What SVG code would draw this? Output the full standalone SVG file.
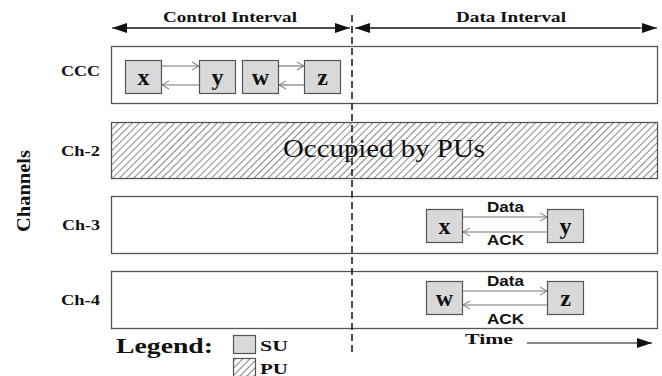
<svg xmlns="http://www.w3.org/2000/svg" width="662" height="376" viewBox="0 0 662 376">
<style>
.ser{font-family:"Liberation Serif","DejaVu Serif",serif;font-weight:bold;fill:#111}
.san{font-family:"Liberation Sans",Arial,sans-serif;font-weight:bold;fill:#111;font-size:14px}
.row{fill:#fff;stroke:#555;stroke-width:1.3}
.node rect{fill:#d9d9d9;stroke:#555;stroke-width:1.2}
.node text{font-family:"Liberation Serif","DejaVu Serif",serif;font-weight:bold;font-size:24px;fill:#111;text-anchor:middle}
.lk{stroke:#777;stroke-width:1.2;fill:none;marker-end:url(#open)}
.big{stroke:#111;stroke-width:1.2;fill:none}
</style>
<defs>
<marker id="open" markerWidth="10" markerHeight="10" refX="8" refY="5" orient="auto" markerUnits="userSpaceOnUse">
<path d="M1,1 L8,5 L1,9" fill="none" stroke="#777" stroke-width="1"/>
</marker>
<marker id="fill" markerWidth="16" markerHeight="12" refX="15" refY="6" orient="auto" markerUnits="userSpaceOnUse">
<path d="M0,1 L15,6 L0,11 Z" fill="#111"/>
</marker>
<pattern id="hatch" width="5" height="5" patternUnits="userSpaceOnUse" patternTransform="rotate(45)">
<rect width="5" height="5" fill="#fff"/>
<line x1="0" y1="0" x2="0" y2="5" stroke="#222" stroke-width="1.1"/>
</pattern>
</defs>

<!-- interval headers -->
<text class="ser" x="163" y="22" font-size="15" textLength="134" lengthAdjust="spacingAndGlyphs">Control Interval</text>
<text class="ser" x="456" y="22" font-size="15" textLength="110" lengthAdjust="spacingAndGlyphs">Data Interval</text>

<!-- channel rows -->
<g id="row-ccc"><rect class="row" x="111.5" y="46.5" width="546" height="57"/>
<text class="ser" x="61" y="76" font-size="14" textLength="39" lengthAdjust="spacingAndGlyphs">CCC</text></g>
<g id="row-ch2"><rect x="111.5" y="122.5" width="546" height="56" fill="url(#hatch)" stroke="#555" stroke-width="1.3"/>
<text class="ser" x="61" y="156" font-size="14" textLength="39" lengthAdjust="spacingAndGlyphs">Ch-2</text>
<text x="283" y="157" font-family="'Liberation Serif','DejaVu Serif',serif" font-size="25" fill="#111" textLength="202" lengthAdjust="spacingAndGlyphs">Occupied by PUs</text></g>
<g id="row-ch3"><rect class="row" x="111.5" y="196.5" width="546" height="57"/>
<text class="ser" x="62" y="230" font-size="14" textLength="38" lengthAdjust="spacingAndGlyphs">Ch-3</text></g>
<g id="row-ch4"><rect class="row" x="111.5" y="271.5" width="546" height="57"/>
<text class="ser" x="61" y="305" font-size="14" textLength="39" lengthAdjust="spacingAndGlyphs">Ch-4</text></g>

<text class="ser" font-size="19" transform="translate(30,232) rotate(-90)" textLength="82" lengthAdjust="spacingAndGlyphs">Channels</text>

<!-- nodes -->
<g id="ccc-x" class="node"><rect x="125.5" y="60.5" width="36" height="33"/><text x="143.5" y="85">x</text></g>
<g id="ccc-y" class="node"><rect x="199.5" y="60.5" width="36" height="33"/><text x="217.5" y="85">y</text></g>
<g id="ccc-w" class="node"><rect x="242.5" y="60.5" width="36" height="33"/><text x="260.5" y="85">w</text></g>
<g id="ccc-z" class="node"><rect x="304.5" y="60.5" width="36" height="33"/><text x="322.5" y="85">z</text></g>
<g id="ch3-x" class="node"><rect x="426.5" y="209.5" width="36" height="33"/><text x="444.5" y="234">x</text></g>
<g id="ch3-y" class="node"><rect x="547.5" y="209.5" width="36" height="33"/><text x="565.5" y="234">y</text></g>
<g id="ch4-w" class="node"><rect x="426.5" y="281.5" width="36" height="33"/><text x="444.5" y="306">w</text></g>
<g id="ch4-z" class="node"><rect x="547.5" y="281.5" width="36" height="33"/><text x="565.5" y="306">z</text></g>

<!-- connectors -->
<g id="connectors">
<line class="big" x1="126" y1="28" x2="350" y2="28" marker-end="url(#fill)"/>
<line class="big" x1="340" y1="28" x2="112" y2="28" marker-end="url(#fill)"/>
<line class="big" x1="365" y1="28" x2="657" y2="28" marker-end="url(#fill)"/>
<line class="big" x1="640" y1="28" x2="355" y2="28" marker-end="url(#fill)"/>
<line x1="352" y1="15" x2="352" y2="352" stroke="#111" stroke-width="1.5" stroke-dasharray="7,4"/>
<line class="lk" x1="162" y1="66" x2="199" y2="66"/>
<line class="lk" x1="199" y1="85" x2="162" y2="85"/>
<line class="lk" x1="279" y1="66" x2="304" y2="66"/>
<line class="lk" x1="304" y1="85" x2="279" y2="85"/>
<line class="lk" x1="463" y1="217" x2="547" y2="217"/>
<line class="lk" x1="547" y1="232" x2="463" y2="232"/>
<line class="lk" x1="463" y1="291" x2="547" y2="291"/>
<line class="lk" x1="547" y1="305" x2="463" y2="305"/>
<line class="big" x1="527" y1="343" x2="652" y2="343" marker-end="url(#fill)"/>
</g>
<text class="san" x="487" y="212" textLength="37" lengthAdjust="spacingAndGlyphs">Data</text>
<text class="san" x="487" y="245" textLength="37" lengthAdjust="spacingAndGlyphs">ACK</text>
<text class="san" x="487" y="286" textLength="37" lengthAdjust="spacingAndGlyphs">Data</text>
<text class="san" x="487" y="324" textLength="37" lengthAdjust="spacingAndGlyphs">ACK</text>
<text class="ser" x="465" y="344" font-size="15" textLength="48" lengthAdjust="spacingAndGlyphs">Time</text>

<!-- legend -->
<g id="legend">
<text class="ser" x="116" y="353" font-size="22" textLength="97" lengthAdjust="spacingAndGlyphs">Legend:</text>
<rect x="233.5" y="335.5" width="22" height="18" fill="#d9d9d9" stroke="#555" stroke-width="1.2"/>
<text class="ser" x="260" y="351" font-size="15" textLength="28" lengthAdjust="spacingAndGlyphs">SU</text>
<rect x="233.5" y="358.5" width="22" height="18" fill="url(#hatch)" stroke="#555" stroke-width="1.2"/>
<text class="ser" x="260" y="374" font-size="15" textLength="28" lengthAdjust="spacingAndGlyphs">PU</text>
</g>
</svg>
